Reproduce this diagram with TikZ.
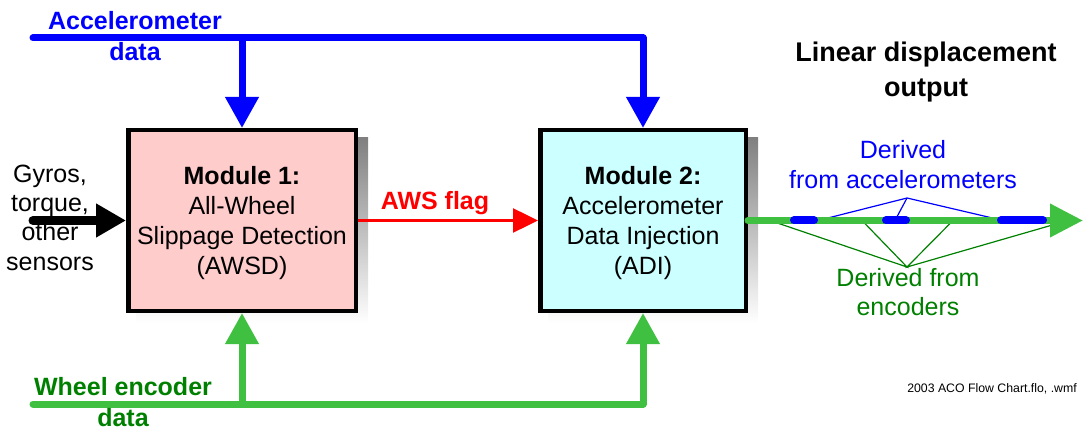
\documentclass[tikz,border=0pt]{standalone}
\usepackage{fontspec}
\setmainfont{Liberation Sans}
\usetikzlibrary{arrows.meta,backgrounds,calc}
\definecolor{accblue}{RGB}{0,0,255}
\definecolor{encgreen}{RGB}{64,192,64}
\definecolor{labgreen}{RGB}{0,128,0}
\definecolor{flagred}{RGB}{255,0,0}
\definecolor{modpink}{RGB}{255,204,204}
\definecolor{modcyan}{RGB}{204,255,255}
\definecolor{shade}{RGB}{160,160,160}

\begin{document}
\begin{tikzpicture}[x=1pt,y=-1pt,
  module/.style={draw=black, line width=4.5pt, minimum height=180.5pt,
    inner sep=0pt, align=center, font=\fontsize{25}{30}\selectfont},
  feed/.style={line width=7pt, line cap=round, line join=round,
    -{Triangle[length=31pt,width=32pt]}},
  plainlabel/.style={inner sep=0pt, align=center, font=\fontsize{25}{30}\selectfont},
  boldlabel/.style={inner sep=0pt, align=center, font=\fontsize{25}{31}\selectfont\bfseries},
  segment/.style={accblue, line width=8pt, line cap=round},
  pointer/.style={line width=1.2pt}
]
\useasboundingbox (0,0) rectangle (1083,430);

% processing modules (the rule on the first line lowers the text block a little)
\node[module, fill=modpink, minimum width=227.5pt] (m1) at (242,220.5)
  {\rule{0pt}{24pt}\textbf{Module 1:}\\All-Wheel\\Slippage Detection\\(AWSD)};
\node[module, fill=modcyan, minimum width=205.5pt] (m2) at (643,220.5)
  {\rule{0pt}{24pt}\textbf{Module 2:}\\Accelerometer\\Data Injection\\(ADI)};
\begin{scope}[on background layer]
  \fill[shade] ($(m1.north west)+(10,10)$) rectangle ($(m1.south east)+(10,10)$);
  \fill[shade] ($(m2.north west)+(10,10)$) rectangle ($(m2.south east)+(10,10)$);
\end{scope}

% accelerometer bus
\coordinate (accL) at (33,38);
\draw[feed, accblue] (accL) -- (accL -| m2.north) -- (m2.north);
\draw[feed, accblue] (accL -| m1.north) -- (m1.north);
\node[boldlabel, text=accblue, anchor=base] (acclab) at (135,61) {Accelerometer\\data};

% wheel encoder bus
\coordinate (encL) at (33,404);
\draw[feed, encgreen] (encL) -- (encL -| m2.south) -- (m2.south);
\draw[feed, encgreen] (encL -| m1.south) -- (m1.south);
\node[boldlabel, text=labgreen, anchor=base] (enclab) at (123,426) {Wheel encoder\\data};

% other sensors into module 1
\node[plainlabel, font=\fontsize{25}{29.3}\selectfont, anchor=base] (gyro) at (50,270) {Gyros,\\torque,\\other\\sensors};
\coordinate (gyroL) at (33,220.5);
\draw[line width=9pt, line cap=round, -{Triangle[length=30pt,width=32pt]}] (gyroL) -- (m1.west);

% slippage flag
\draw[flagred, line width=2.5pt, -{Triangle[length=25pt,width=24pt]}] (m1.east) -- (m2.west);
\node[boldlabel, text=flagred, anchor=base] (flag) at (435,210) {AWS flag};

% displacement output
\node[boldlabel, font=\fontsize{27}{35}\selectfont\bfseries, anchor=base] (outlab) at (926,97)
  {Linear displacement\\output};
\coordinate (outE) at (1083,220.5);
\coordinate (accTip) at (907,198);
\coordinate (encTip) at (907,267);
\coordinate (s1a) at (794,220.5); \coordinate (s1b) at (814,220.5);
\coordinate (s2a) at (886,220.5); \coordinate (s2b) at (906,220.5);
\coordinate (s3a) at (1001,220.5); \coordinate (s3b) at (1043,220.5);
\draw[pointer, labgreen] (770,220.5) -- (encTip) -- (862,220.5);
\draw[pointer, labgreen] (953,220.5) -- (encTip) -- (1068,220.5);
\draw[pointer, accblue] (818,220.5) -- (accTip) -- (1003,220.5);
\draw[pointer, accblue] (accTip) -- (895,220.5);
\draw[line width=7pt, line cap=round, encgreen, -{Triangle[length=33pt,width=32pt]}] (m2.east) -- (outE);
\draw[segment] (s1a) -- (s1b);
\draw[segment] (s2a) -- (s2b);
\draw[segment] (s3a) -- (s3b);
\node[plainlabel, text=accblue, anchor=base] (acclines) at (903,189) {Derived\\from accelerometers};
\node[plainlabel, font=\fontsize{25}{29}\selectfont, text=labgreen, anchor=base] (enclines) at (908,315) {Derived from\\encoders};

% source note
\node[inner sep=0pt, font=\fontsize{12.3}{14}\selectfont, anchor=base] (src) at (992,392)
  {2003 ACO Flow Chart.flo, .wmf};
\end{tikzpicture}
\end{document}
